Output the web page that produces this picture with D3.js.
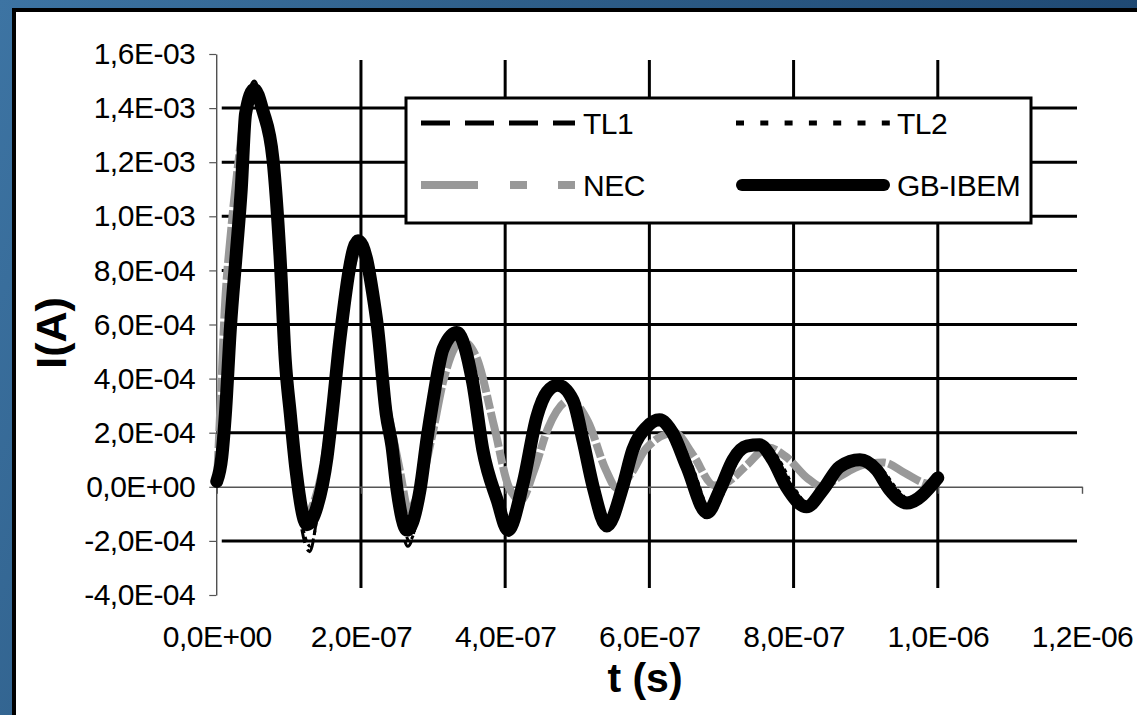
<!DOCTYPE html>
<html>
<head>
<meta charset="utf-8">
<script src="https://cdn.jsdelivr.net/npm/d3@7"></script>
<style>
    html, body { margin: 0; padding: 0; overflow: hidden; background: #2b5a84; }
    svg { display: block; }
    text { font-family: 'Liberation Sans', Arial, Helvetica, sans-serif; }
</style>
</head>
<body>
<svg id="chart"></svg>
<script>
// values are stored as [t in 1e-7 s, I in 1e-4 A]
const T_UNIT = 1e-7;
const I_UNIT = 1e-4;

const xTicks = [0, 2e-7, 4e-7, 6e-7, 8e-7, 1e-6, 1.2e-6];
const yTicks = [-4e-4, -2e-4, 0, 2e-4, 4e-4, 6e-4, 8e-4, 1e-3, 1.2e-3, 1.4e-3, 1.6e-3];
const xGrid = [2e-7, 4e-7, 6e-7, 8e-7, 1e-6];
const yGrid = [-2e-4, 2e-4, 4e-4, 6e-4, 8e-4, 1e-3, 1.2e-3, 1.4e-3];

const seriesNames = ['TL1', 'TL2', 'NEC', 'GB-IBEM'];

const tl1 = [
    [0, 0], [0.1, 1.8], [0.19, 5.5], [0.27, 8.8], [0.34, 11.5], [0.42, 14.2], [0.52, 15.0],
    [0.64, 14.0], [0.78, 12.0], [0.88, 8.2], [0.95, 4.5], [1.02, 2.2], [1.12, -0.5], [1.29, -2.4],
    [1.42, -0.6], [1.53, 1.0], [1.6, 2.7], [1.71, 5.4], [1.96, 9.2], [2.08, 8.5], [2.16, 7.2],
    [2.23, 5.8], [2.35, 2.4], [2.45, 0.8], [2.52, -0.7], [2.65, -2.2], [2.82, -0.4], [2.92, 1.7],
    [3.0, 3.1], [3.14, 5.1], [3.34, 5.8], [3.56, 3.8], [3.7, 1.2], [3.9, -0.8], [4.05, -1.8],
    [4.25, 0], [4.44, 2.5], [4.58, 3.5], [4.74, 3.8], [4.96, 3.2], [5.1, 1.6], [5.24, -0.1],
    [5.43, -1.5], [5.64, -0.1], [5.78, 1.3], [5.97, 2.2], [6.16, 2.5], [6.35, 2.0], [6.56, 0.6],
    [6.84, -1.0], [7.02, -0.2], [7.2, 1.0], [7.38, 1.5], [7.56, 1.6], [7.76, 1.0], [7.95, -0.1],
    [8.22, -0.8], [8.44, -0.2], [8.67, 0.7], [8.96, 1.05], [9.2, 0.6], [9.4, -0.2], [9.62, -0.6],
    [10.0, 0.3],
];

const tl2 = [
    [0, 0], [0.1, 1.6], [0.19, 5.2], [0.27, 8.5], [0.34, 11.2], [0.42, 14.0], [0.53, 14.9],
    [0.65, 14.0], [0.79, 11.8], [0.89, 8.0], [0.96, 4.4], [1.04, 2.0], [1.14, -0.6], [1.3, -2.2],
    [1.43, -0.5], [1.54, 1.0], [1.61, 2.6], [1.72, 5.3], [1.97, 9.1], [2.1, 8.4], [2.18, 7.1],
    [2.25, 5.7], [2.37, 2.4], [2.46, 0.8], [2.54, -0.6], [2.67, -2.0], [2.84, -0.3], [2.94, 1.7],
    [3.02, 3.1], [3.16, 5.0], [3.36, 5.7], [3.58, 3.8], [3.72, 1.3], [3.92, -0.7], [4.07, -1.7],
    [4.27, 0], [4.46, 2.4], [4.6, 3.4], [4.76, 3.7], [4.98, 3.2], [5.12, 1.6], [5.26, 0],
    [5.45, -1.4], [5.66, 0], [5.8, 1.3], [5.99, 2.2], [6.18, 2.45], [6.38, 2.0], [6.6, 0.7],
    [6.87, -0.95], [7.05, -0.1], [7.23, 1.0], [7.41, 1.5], [7.6, 1.55], [7.8, 1.0], [8.0, 0],
    [8.26, -0.75], [8.48, -0.1], [8.7, 0.7], [9.0, 1.0], [9.24, 0.6], [9.44, -0.1], [9.66, -0.55],
    [10.0, 0.25],
];

const nec = [
    [0, 0], [0.06, 3.5], [0.11, 6.5], [0.2, 9.5], [0.3, 12], [0.42, 14.2], [0.55, 14.5],
    [0.68, 13.5], [0.8, 11.5], [0.9, 7.5], [0.98, 4.2], [1.08, 1.0], [1.24, -1.0], [1.38, -0.3],
    [1.52, 1.5], [1.65, 4.5], [1.8, 7.2], [1.98, 8.8], [2.1, 8.0], [2.2, 6.2], [2.3, 4.0],
    [2.42, 2.2], [2.54, 0.6], [2.66, -0.85], [2.8, -0.2], [2.98, 1.8], [3.15, 4.0], [3.4, 5.4],
    [3.6, 4.8], [3.85, 2.2], [4.05, 0], [4.22, -0.5], [4.4, 0.6], [4.6, 2.2], [4.9, 3.2],
    [5.15, 2.4], [5.4, 0.6], [5.55, -0.05], [5.75, 0.5], [5.95, 1.4], [6.35, 2.0], [6.6, 1.2],
    [6.9, 0.05], [7.1, 0.2], [7.35, 0.8], [7.65, 1.45], [7.9, 1.1], [8.2, 0.3], [8.4, 0],
    [8.65, 0.4], [8.95, 0.8], [9.25, 0.9], [9.55, 0.5], [9.8, 0.15], [10, 0.05],
];

const gbIbem = [
    [0, 0.2], [0.07, 1.1], [0.12, 2.7], [0.19, 5.9], [0.27, 8.6], [0.34, 11], [0.4, 13.8],
    [0.52, 14.7], [0.64, 13.9], [0.78, 12.1], [0.88, 8.4], [0.95, 4.7], [1.02, 2.7], [1.1, 0.6],
    [1.25, -1.4], [1.39, -0.74], [1.53, 1.1], [1.6, 2.7], [1.71, 5.5], [1.96, 9.1], [2.08, 8.4],
    [2.16, 7.2], [2.23, 5.9], [2.35, 2.7], [2.43, 1.5], [2.5, -0.1], [2.64, -1.6], [2.82, -0.1],
    [2.92, 1.85], [3.0, 3.2], [3.14, 5.1], [3.33, 5.7], [3.55, 3.85], [3.69, 1.37], [3.89, -0.5],
    [4.04, -1.6], [4.25, 0.15], [4.44, 2.6], [4.58, 3.5], [4.73, 3.75], [4.94, 3.2], [5.08, 1.7],
    [5.22, 0], [5.41, -1.45], [5.63, 0], [5.77, 1.37], [5.96, 2.2], [6.14, 2.48], [6.32, 2.0],
    [6.52, 0.74], [6.8, -0.96], [6.98, -0.1], [7.16, 1.0], [7.35, 1.5], [7.53, 1.55], [7.71, 1.0],
    [7.9, 0], [8.18, -0.74], [8.41, -0.1], [8.64, 0.74], [8.92, 1.0], [9.15, 0.63], [9.33, -0.1],
    [9.57, -0.6], [10.0, 0.33],
];

const seriesData = {
    'TL1': tl1,
    'TL2': tl2,
    'NEC': nec,
    'GB-IBEM': gbIbem,
};

function sci(v) {
    if (Math.abs(v) < 1e-15) return '0,0E+00';
    let e = Math.floor(Math.log10(Math.abs(v)) + 1e-9);
    let m = v / Math.pow(10, e);
    let es = (e < 0 ? '-' : '+') + String(Math.abs(e)).padStart(2, '0');
    return m.toFixed(1).replace('.', ',') + 'E' + es;
}

class Chart {
    plot = {
        left: 216.75,
        right: 1082,
        top: 54,
        bottom: 595,
    };
    styles = {
        'TL1': { color: '#000', width: 3, dash: '29,15', plotDash: '14,7', cap: 'butt', lw: 5 },
        'TL2': { color: '#000', width: 3, dash: '8,16.3', plotDash: '4,4', cap: 'butt', lw: 5 },
        'NEC': { color: '#999', width: 8, dash: '57,32,17,31', plotDash: '36,3,14,3', cap: 'butt', lw: 8 },
        'GB-IBEM': { color: '#000', width: 13, dash: null, plotDash: null, cap: 'round', lw: 12 },
    };
    constructor(svg, width = 1137, height = 715) {
        this.svg = svg;
        this.width = width;
        this.height = height;
    }

    initialize() {
        this.svg = d3.select(this.svg)
            .attr('width', this.width)
            .attr('height', this.height);

        this.x = d3.scaleLinear()
            .domain([0, 1.2e-6])
            .range([this.plot.left, this.plot.right]);
        this.y = d3.scaleLinear()
            .domain([-4e-4, 1.6e-3])
            .range([this.plot.bottom, this.plot.top]);

        this.drawFrame();
        this.drawGrid();
        this.drawAxes();
        this.drawSeries();
        this.drawLegend();
    }

    drawFrame() {
        const defs = this.svg.append('defs');
        const grad = defs.append('linearGradient')
            .attr('id', 'bg')
            .attr('x1', 0).attr('y1', 0)
            .attr('x2', 1).attr('y2', 0.3);
        grad.append('stop').attr('offset', '0%').attr('stop-color', '#3d74a3');
        grad.append('stop').attr('offset', '40%').attr('stop-color', '#2f5f8a');
        grad.append('stop').attr('offset', '100%').attr('stop-color', '#1d4670');

        this.svg.append('rect')
            .attr('width', this.width)
            .attr('height', this.height)
            .attr('fill', 'url(#bg)');
        // white sheet with black top/left edges
        this.svg.append('rect')
            .attr('x', 12)
            .attr('y', 8)
            .attr('width', this.width)
            .attr('height', this.height)
            .attr('fill', '#000');
        this.svg.append('rect')
            .attr('x', 16)
            .attr('y', 12)
            .attr('width', this.width)
            .attr('height', this.height)
            .attr('fill', '#fff');
    }

    drawGrid() {
        const g = this.svg.append('g');
        g.selectAll('line.h')
            .data(yGrid)
            .join('line')
            .attr('class', 'h')
            .attr('x1', this.plot.left + 5)
            .attr('x2', this.plot.right - 5)
            .attr('y1', d => this.y(d))
            .attr('y2', d => this.y(d))
            .attr('stroke', '#000')
            .attr('stroke-width', 3);
        g.selectAll('line.v')
            .data(xGrid)
            .join('line')
            .attr('class', 'v')
            .attr('x1', d => this.x(d))
            .attr('x2', d => this.x(d))
            .attr('y1', this.plot.top + 6)
            .attr('y2', this.plot.bottom - 7)
            .attr('stroke', '#000')
            .attr('stroke-width', 3);
    }

    drawAxes() {
        const yAxis = this.svg.append('g')
            .attr('transform', `translate(${this.plot.left - 0.5},0)`)
            .call(d3.axisLeft(this.y)
                .tickValues(yTicks)
                .tickFormat(sci)
                .tickSize(7)
                .tickSizeOuter(0)
                .tickPadding(14));
        yAxis.select('.domain').attr('stroke', '#333').attr('stroke-width', 1.2);
        yAxis.selectAll('.tick line').attr('stroke', '#555').attr('stroke-width', 1.2);
        yAxis.selectAll('text')
            .attr('font-size', 30)
            .attr('letter-spacing', -0.5)
            .attr('font-family', "'Liberation Sans', Arial, sans-serif")
            .attr('fill', '#000');

        // x axis line crossing at zero
        const xAxis = this.svg.append('g')
            .attr('transform', `translate(0,${this.y(0)})`)
            .call(d3.axisBottom(this.x)
                .tickValues(xTicks)
                .tickSize(7)
                .tickSizeOuter(0)
                .tickFormat(''));
        xAxis.select('.domain').attr('stroke', '#555').attr('stroke-width', 1.6);
        xAxis.selectAll('.tick line').attr('stroke', '#555').attr('stroke-width', 1.4);

        // x tick labels sit below the plot
        const xLabels = this.svg.append('g')
            .attr('transform', `translate(0,${this.plot.bottom})`)
            .call(d3.axisBottom(this.x)
                .tickValues(xTicks)
                .tickFormat(sci)
                .tickSize(0)
                .tickPadding(31));
        xLabels.select('.domain').remove();
        xLabels.selectAll('text')
            .attr('font-size', 30)
            .attr('letter-spacing', -0.5)
            .attr('font-family', "'Liberation Sans', Arial, sans-serif")
            .attr('fill', '#000');

        this.svg.append('text')
            .attr('x', 645)
            .attr('y', 692)
            .attr('text-anchor', 'middle')
            .attr('font-size', 41)
            .attr('font-weight', 'bold')
            .text('t (s)');

        this.svg.append('text')
            .attr('transform', `translate(66,333) rotate(-90)`)
            .attr('text-anchor', 'middle')
            .attr('font-size', 43)
            .attr('font-weight', 'bold')
            .text('I(A)');
    }

    drawSeries() {
        const line = d3.line()
            .x(d => this.x(d[0] * T_UNIT))
            .y(d => this.y(d[1] * I_UNIT))
            .curve(d3.curveMonotoneX);

        // draw order: NEC under, GB-IBEM, then thin TL curves
        const order = ['NEC', 'GB-IBEM', 'TL2', 'TL1'];
        this.svg.append('g')
            .selectAll('path')
            .data(order)
            .join('path')
            .attr('d', d => line(seriesData[d]))
            .attr('fill', 'none')
            .attr('stroke', d => this.styles[d].color)
            .attr('stroke-width', d => this.styles[d].width)
            .attr('stroke-dasharray', d => this.styles[d].plotDash)
            .attr('stroke-linecap', d => this.styles[d].cap)
            .attr('stroke-linejoin', 'round');
    }

    drawLegend() {
        const box = { x: 406, y: 98, w: 625, h: 125 };
        const lg = this.svg.append('g');
        lg.append('rect')
            .attr('x', box.x)
            .attr('y', box.y)
            .attr('width', box.w)
            .attr('height', box.h)
            .attr('fill', '#fff')
            .attr('stroke', '#000')
            .attr('stroke-width', 3);

        const cols = [421, 736];
        const rows = [123, 185];
        const item = lg.selectAll('g.item')
            .data(seriesNames)
            .join('g')
            .attr('class', 'item')
            .attr('transform', (d, i) => `translate(${cols[i % 2]},${rows[Math.floor(i / 2)]})`);

        item.append('line')
            .attr('x1', d => (this.styles[d].cap === 'round' ? 6 : 0))
            .attr('x2', d => (this.styles[d].cap === 'round' ? 148 : 154))
            .attr('stroke', d => this.styles[d].color)
            .attr('stroke-width', d => this.styles[d].lw)
            .attr('stroke-dasharray', d => this.styles[d].dash)
            .attr('stroke-linecap', d => this.styles[d].cap);

        item.append('text')
            .attr('x', (d, i) => (i % 2 === 0 ? 162 : 161))
            .attr('y', 11)
            .attr('font-size', 30)
            .attr('letter-spacing', -0.5)
            .text(d => d);
    }
}

const chart = new Chart(document.getElementById('chart'));
chart.initialize();
</script>
</body>
</html>
